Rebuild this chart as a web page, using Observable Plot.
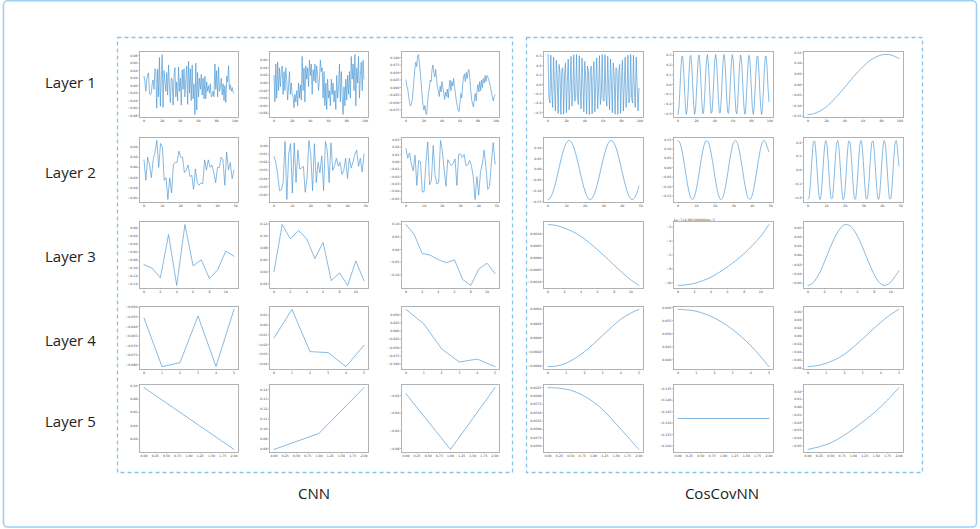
<!DOCTYPE html>
<html><head><meta charset="utf-8">
<script src="https://cdn.jsdelivr.net/npm/d3@7"></script>
<script src="https://cdn.jsdelivr.net/npm/@observablehq/plot@0.6"></script>
<style>
body{margin:0;background:#fff;}
#root{position:relative;width:980px;height:529px;overflow:hidden;font-family:"Open Sans",sans-serif;background:#fff;}
.lbl{position:absolute;font-size:15px;color:#222;white-space:nowrap;transform:translateY(-50%);}
.glbl{position:absolute;font-size:15px;color:#222;white-space:nowrap;transform:translate(-50%,-50%);}
</style></head><body><div id="root"></div>
<script>
// ---------- labels ----------
const rowLabels = ["Layer 1", "Layer 2", "Layer 3", "Layer 4", "Layer 5"];
const groupLabels = ["CNN", "CosCovNN"];
const offsetLabelL3 = "1e\u22127+6.8016000000e\u22123";

// ---------- tick labels ----------
const xTicksL1 = [0, 20, 40, 60, 80, 100];
const xTicksL2 = [0, 10, 20, 30, 40, 50];
const xTicksL3 = [0, 2, 4, 6, 8, 10];
const xTicksL4 = [0, 1, 2, 3, 4, 5];
const xTicksL5 = [0, 0.25, 0.5, 0.75, 1, 1.25, 1.5, 1.75, 2];

// ---------- CNN series ----------
const cnnL1a = [0.025,0.010,-0.015,0.015,0.030,0.034,-0.020,-0.024,-0.020,0.005,
 0.015,-0.010,0.045,0.040,-0.060,0.044,-0.030,0.075,-0.055,0.020,
 0.083,-0.058,0.040,0.010,-0.015,0.035,-0.025,0.055,0.000,-0.045,
 0.020,0.015,-0.052,0.025,0.048,-0.030,0.010,-0.040,0.050,-0.015,
 0.020,-0.052,0.042,-0.010,0.045,-0.030,0.015,0.052,-0.050,0.065,
 -0.020,0.045,-0.040,0.055,-0.035,0.005,-0.077,0.060,-0.065,0.035,
 -0.030,0.020,-0.010,0.030,-0.025,0.020,-0.035,0.025,-0.035,0.010,
 -0.015,0.000,-0.020,0.005,-0.030,-0.025,-0.015,-0.030,0.058,-0.010,
 0.040,-0.030,0.050,-0.015,-0.005,0.020,-0.025,0.005,-0.040,0.000,
 -0.045,0.025,0.010,0.053,-0.010,0.002,-0.015,-0.005,-0.018,-0.020];
const cnnL1b = [0.020,-0.050,0.050,-0.040,0.055,-0.020,0.040,-0.010,0.030,0.045,
 -0.030,0.030,-0.020,0.040,0.010,-0.045,-0.010,0.030,-0.030,0.000,-0.030,
 -0.035,-0.065,-0.030,-0.050,-0.020,-0.060,0.000,-0.040,-0.005,-0.045,
 0.070,-0.020,0.040,-0.050,0.045,0.010,0.040,-0.010,0.060,0.020,0.050,-0.030,0.035,0.005,0.050,0.000,0.045,0.020,-0.020,0.010,0.060,0.030,0.040,-0.040,0.030,
 -0.060,0.000,-0.070,0.010,-0.040,-0.020,-0.060,0.010,-0.030,0.000,-0.050,-0.020,-0.070,0.020,-0.040,-0.010,0.050,-0.050,0.030,-0.030,-0.083,-0.010,-0.060,0.010,-0.045,0.020,-0.030,
 0.030,-0.040,0.070,0.010,0.050,-0.020,0.075,-0.060,0.040,0.000,0.070,-0.040,0.020,0.055,-0.020,0.060,0.010];
const cnnL1c = [0.025,0.005,-0.005,-0.030,-0.050,-0.062,-0.055,-0.040,-0.010,0.030,
 0.065,0.085,0.070,0.105,0.110,0.080,0.050,0.010,-0.030,-0.060,
 -0.075,-0.060,-0.085,-0.090,-0.050,-0.020,0.000,0.025,0.020,0.060,
 0.075,0.050,0.035,0.060,0.030,0.000,-0.010,-0.030,0.005,-0.015,
 0.020,0.000,-0.020,-0.040,-0.015,-0.030,-0.005,-0.035,0.000,0.025,
 -0.010,0.020,0.005,0.030,0.000,-0.020,-0.045,-0.060,-0.075,-0.080,
 -0.050,-0.020,-0.035,0.010,0.035,0.045,0.020,0.050,0.030,0.055,
 0.060,0.030,-0.010,-0.040,-0.055,-0.065,-0.040,-0.020,-0.045,-0.010,
 0.010,-0.015,0.020,-0.010,0.025,0.000,0.030,0.015,0.040,0.020,
 0.040,0.035,0.025,0.015,0.000,-0.015,-0.030,-0.045,-0.030,-0.025];
const cnnL2a = [0.015,-0.025,0.020,0.005,-0.020,0.015,0.030,0.053,0.000,0.047,
 0.040,-0.025,-0.020,-0.063,-0.020,-0.050,0.005,0.010,0.010,0.032,
 0.020,0.020,-0.010,-0.005,0.005,-0.018,-0.015,-0.043,-0.003,-0.030,
 -0.035,-0.030,-0.032,0.015,-0.005,0.015,0.000,0.005,-0.010,-0.030,
 0.000,0.000,0.020,0.015,-0.035,0.030,-0.005,0.010,-0.022,-0.005];
const cnnL2b = [-0.013,-0.020,-0.035,-0.055,-0.054,-0.045,0.006,-0.066,-0.010,0.003,
 -0.058,0.004,-0.045,-0.005,-0.028,-0.027,-0.025,-0.057,-0.040,0.007,
 -0.010,-0.055,0.003,-0.045,-0.020,-0.033,-0.012,-0.055,0.006,-0.005,
 -0.045,0.004,-0.030,-0.024,-0.015,-0.025,-0.020,-0.035,-0.030,-0.015,
 -0.040,-0.015,-0.027,-0.020,-0.010,-0.005,-0.025,-0.015,-0.032,-0.010];
const cnnL2c = [0.018,0.005,0.012,-0.003,-0.012,0.009,-0.032,0.002,0.000,-0.041,
 -0.040,0.000,0.027,-0.031,-0.025,0.022,-0.018,-0.030,-0.028,0.029,
 0.015,-0.010,-0.033,0.003,-0.002,-0.005,-0.002,0.004,-0.032,0.010,
 0.011,0.006,0.010,-0.005,-0.004,0.002,-0.005,-0.020,-0.051,-0.020,
 -0.045,-0.014,-0.003,0.016,-0.008,-0.037,-0.033,0.000,0.026,-0.003];
const cnnL3a = [-0.091,-0.100,-0.124,-0.016,-0.143,0.009,-0.094,-0.079,-0.126,-0.104,-0.057,-0.070];
const cnnL3b = [0.040,0.119,0.095,0.109,0.095,0.062,0.089,0.025,0.038,0.017,0.058,0.025];
const cnnL3c = [0.099,0.061,-0.015,-0.022,-0.040,-0.052,-0.041,-0.118,-0.142,-0.077,-0.054,-0.095];
const cnnL4a = [-0.0555,-0.0811,-0.0790,-0.0545,-0.0810,-0.0510];
const cnnL4b = [-0.0133,0.0160,-0.0273,-0.0283,-0.0427,-0.0207];
const cnnL4c = [0.066,0.022,-0.054,-0.094,-0.085,-0.108];
const cnnL5a = [0.097,0.051,0.005];
const cnnL5b = [0.0793,0.0955,0.1420];
const cnnL5c = [-0.018,-0.081,-0.011];

// ---------- CosCovNN series ----------
const ccL1a = [0.320,-0.140,-0.197,0.313,-0.077,-0.245,0.292,-0.011,-0.283,0.259,
 0.056,-0.308,0.214,0.120,-0.319,0.160,0.179,-0.317,0.099,0.230,
 -0.301,0.033,0.271,-0.271,-0.033,0.301,-0.230,-0.099,0.317,-0.179,
 -0.160,0.319,-0.120,-0.214,0.308,-0.056,-0.259,0.283,0.011,-0.292,
 0.245,0.077,-0.313,0.197,0.140,-0.320,0.140,0.197,-0.313,0.077,
 0.245,-0.292,0.011,0.283,-0.259,-0.056,0.308,-0.214,-0.120,0.319,
 -0.160,-0.179,0.317,-0.099,-0.230,0.301,-0.033,-0.271,0.271,0.033,
 -0.301,0.230,0.099,-0.317,0.179,0.160,-0.319,0.120,0.214,-0.308,
 0.056,0.259,-0.283,-0.011,0.292,-0.245,-0.077,0.313,-0.197,-0.140,
 0.320,-0.140,-0.197,0.313,-0.077,-0.245,0.292,-0.011,-0.283,-0.040];
const ccL1b = [-0.310,-0.239,-0.058,0.149,0.288,0.295,0.167,-0.037,-0.225,-0.309,
 -0.252,-0.079,0.130,0.279,0.301,0.185,-0.016,-0.209,-0.307,-0.264,
 -0.100,0.110,0.269,0.305,0.202,0.005,-0.193,-0.303,-0.275,-0.120,
 0.090,0.258,0.308,0.217,0.027,-0.176,-0.298,-0.284,-0.139,0.069,
 0.246,0.310,0.232,0.048,-0.158,-0.292,-0.292,-0.158,0.048,0.232,
 0.310,0.246,0.069,-0.139,-0.284,-0.298,-0.176,0.027,0.217,0.308,
 0.258,0.090,-0.120,-0.274,-0.303,-0.193,0.005,0.201,0.305,0.269,
 0.110,-0.100,-0.264,-0.307,-0.209,-0.016,0.185,0.301,0.279,0.130,
 -0.079,-0.252,-0.309,-0.225,-0.038,0.167,0.295,0.288,0.149,-0.058,
 -0.239,-0.310,-0.239,-0.058,0.149,0.288,0.295,0.167,-0.037,-0.175];
const ccL1cX = [0,5,10,15,20,25,30,35,40,45,50,55,60,65,70,75,80,85,90,95,99];
const ccL1c = [-0.142,-0.140,-0.132,-0.121,-0.105,-0.086,-0.063,-0.039,-0.013,0.013,
 0.039,0.063,0.085,0.105,0.121,0.132,0.140,0.142,0.140,0.132,0.123];
const ccL2a = [-0.141,-0.136,-0.120,-0.096,-0.065,-0.029,0.009,0.047,0.080,0.107,
 0.125,0.134,0.133,0.121,0.100,0.070,0.036,-0.002,-0.040,-0.075,
 -0.104,-0.126,-0.138,-0.141,-0.132,-0.114,-0.087,-0.054,-0.017,0.021,
 0.057,0.089,0.113,0.129,0.135,0.130,0.115,0.091,0.060,0.024,
 -0.014,-0.051,-0.084,-0.112,-0.131,-0.140,-0.139,-0.128,-0.107,-0.078];
const ccL2b = [0.145,0.132,0.096,0.042,-0.021,-0.082,-0.132,-0.162,-0.168,-0.148,
 -0.107,-0.049,0.014,0.073,0.118,0.142,0.141,0.115,0.068,0.008,
 -0.055,-0.111,-0.151,-0.169,-0.160,-0.128,-0.076,-0.015,0.048,0.100,
 0.135,0.145,0.130,0.091,0.036,-0.027,-0.088,-0.136,-0.164,-0.167,
 -0.145,-0.101,-0.043,0.020,0.078,0.122,0.143,0.140,0.111,0.085];
const ccL2c = [-0.213,-0.202,-0.142,-0.048,0.058,0.150,0.205,0.211,0.165,0.079,
 -0.027,-0.125,-0.194,-0.215,-0.183,-0.108,-0.005,0.098,0.178,0.214,
 0.198,0.134,0.037,-0.068,-0.158,-0.208,-0.208,-0.158,-0.069,0.037,
 0.134,0.198,0.214,0.178,0.098,-0.005,-0.107,-0.183,-0.215,-0.194,
 -0.126,-0.027,0.078,0.165,0.211,0.205,0.150,0.058,-0.048,-0.142,
 -0.202,-0.213,-0.172,-0.089,0.016,0.116,0.189,0.215,0.189,0.117,
 0.016,-0.088,-0.171,-0.213,-0.202,-0.142,-0.048,0.058,0.150,0.205,
 0.211,0.165,0.079,-0.026,-0.125,-0.194,-0.215,-0.184,-0.108,-0.006,
 0.098,0.177,0.214,0.198,0.134,0.038,-0.068,-0.157,-0.208,-0.209,
 -0.158,-0.069,0.037,0.134,0.198,0.214,0.178,0.099,0.030];
const ccL3a = [0.00140,0.00136,0.00125,0.00110,0.00090,0.00063,0.00034,0.00002,-0.00031,-0.00063,-0.00092,-0.00116];
const ccL3b = [-10.4,-10.3,-10.1,-9.7,-9.2,-8.5,-7.7,-6.8,-5.8,-4.6,-3.3,-1.6];
const ccL3c = [-0.065,-0.061,-0.050,-0.034,-0.013,0.009,0.030,0.048,0.061,0.067,0.065,0.056,
 0.041,0.022,0.000,-0.022,-0.041,-0.056,-0.064,-0.064,-0.058,-0.046,-0.033];
const ccL4a = [-0.00041,-0.00040,-0.00036,-0.00029,-0.00020,-0.00009,0.00003,0.00015,0.00026,0.00034,0.00040];
const ccL4b = [0.0593,0.0591,0.0586,0.0575,0.0560,0.0540,0.0516,0.0487,0.0454,0.0416,0.0374];
const ccL4c = [-0.0755,-0.0730,-0.0670,-0.0580,-0.0450,-0.0270,-0.0070,0.0140,0.0340,0.0520,0.0660];
const ccL5a = [0.0625,0.0623,0.0617,0.0603,0.0582,0.0553,0.0516,0.0478,0.0440];
const ccL5b = [-0.148,-0.148,-0.148];
const ccL5c = [-0.0545,-0.0510,-0.0460,-0.0380,-0.0280,-0.0170,-0.0050,0.0090,0.0250];

// ---------- y tick labels ----------
const yt = {
  cnnL1a:[-0.08,-0.06,-0.04,-0.02,0,0.02,0.04,0.06,0.08],
  cnnL1b:[-0.08,-0.06,-0.04,-0.02,0,0.02,0.04,0.06],
  cnnL1c:[-0.075,-0.05,-0.025,0,0.025,0.05,0.075,0.1],
  cnnL2a:[-0.06,-0.04,-0.02,0,0.02,0.04,0.06],
  cnnL2b:[-0.06,-0.05,-0.04,-0.03,-0.02,-0.01,0],
  cnnL2c:[-0.05,-0.04,-0.03,-0.02,-0.01,0,0.01,0.02,0.03],
  cnnL3a:[-0.14,-0.12,-0.1,-0.08,-0.06,-0.04,-0.02,0],
  cnnL3b:[0.02,0.04,0.06,0.08,0.1,0.12],
  cnnL3c:[-0.1,-0.05,0,0.05,0.1],
  cnnL4a:[-0.08,-0.075,-0.07,-0.065,-0.06,-0.055,-0.05],
  cnnL4b:[-0.04,-0.03,-0.02,-0.01,0,0.01],
  cnnL4c:[-0.1,-0.075,-0.05,-0.025,0,0.025,0.05],
  cnnL5a:[0,0.02,0.04,0.06,0.08,0.1],
  cnnL5b:[0.08,0.09,0.1,0.11,0.12,0.13,0.14],
  cnnL5c:[-0.08,-0.06,-0.04,-0.02],
  ccL1a:[-0.3,-0.2,-0.1,0,0.1,0.2,0.3],
  ccL1b:[-0.3,-0.2,-0.1,0,0.1,0.2,0.3],
  ccL1c:[-0.15,-0.1,-0.05,0,0.05,0.1,0.15],
  ccL2a:[-0.15,-0.1,-0.05,0,0.05,0.1,0.15],
  ccL2b:[-0.15,-0.1,-0.05,0,0.05,0.1,0.15],
  ccL2c:[-0.2,-0.1,0,0.1,0.2],
  ccL3a:[-0.001,-0.0005,0,0.0005,0.001],
  ccL3b:[-10,-8,-6,-4,-2],
  ccL3c:[-0.06,-0.04,-0.02,0,0.02,0.04,0.06],
  ccL4a:[-0.0004,-0.0002,0,0.0002,0.0004],
  ccL4b:[0.04,0.045,0.05,0.055,0.06],
  ccL4c:[-0.08,-0.06,-0.04,-0.02,0,0.02,0.04,0.06],
  ccL5a:[0.045,0.0475,0.05,0.0525,0.055,0.0575,0.06,0.0625],
  ccL5b:[-0.16,-0.155,-0.15,-0.145,-0.14,-0.135],
  ccL5c:[-0.05,-0.04,-0.03,-0.02,-0.01,0,0.01,0.02]
};

// ---------- layout (frame boxes) ----------
const colBox = [[139,238],[269,368],[401,499],[543,643],[673,773],[803,903]];
const rowBox = [[51,117],[137,202],[221,288],[306,369],[384,452]];

const root = document.getElementById("root");

// decorations
const NS = "http://www.w3.org/2000/svg";
const deco = document.createElementNS(NS, "svg");
deco.setAttribute("width", 980); deco.setAttribute("height", 529);
deco.style.position = "absolute"; deco.style.left = "0px"; deco.style.top = "0px";
deco.innerHTML =
  '<rect x="3.5" y="0.8" width="973" height="526.2" rx="4" fill="none" stroke="#9fd0f3" stroke-width="1.6"/>' +
  '<rect x="117.5" y="37.5" width="395" height="435" fill="none" stroke="#86c2ea" stroke-width="1.3" stroke-dasharray="4 3"/>' +
  '<rect x="526.5" y="37.5" width="396" height="435" fill="none" stroke="#86c2ea" stroke-width="1.3" stroke-dasharray="4 3"/>';
root.appendChild(deco);

const rowYs = [82, 172, 256, 340, 421];
rowLabels.forEach((t, i) => {
  const d = document.createElement("div");
  d.className = "lbl"; d.textContent = t;
  d.style.left = "45px"; d.style.top = rowYs[i] + "px";
  root.appendChild(d);
});
[[314, 493], [722, 493]].forEach(([x, y], i) => {
  const d = document.createElement("div");
  d.className = "glbl"; d.textContent = groupLabels[i];
  d.style.left = x + "px"; d.style.top = y + "px";
  root.appendChild(d);
});

const fmt = (s) => d3.format(s);
const panels = [
  // CNN
  {r:0,c:0,ys:cnnL1a,step:1,xt:xTicksL1,xf:"d",ytk:yt.cnnL1a,yf:".2f"},
  {r:0,c:1,ys:cnnL1b,step:1,xt:xTicksL1,xf:"d",ytk:yt.cnnL1b,yf:".2f"},
  {r:0,c:2,ys:cnnL1c,step:1,xt:xTicksL1,xf:"d",ytk:yt.cnnL1c,yf:".3f"},
  {r:1,c:0,ys:cnnL2a,step:1,xt:xTicksL2,xf:"d",ytk:yt.cnnL2a,yf:".2f"},
  {r:1,c:1,ys:cnnL2b,step:1,xt:xTicksL2,xf:"d",ytk:yt.cnnL2b,yf:".2f"},
  {r:1,c:2,ys:cnnL2c,step:1,xt:xTicksL2,xf:"d",ytk:yt.cnnL2c,yf:".2f"},
  {r:2,c:0,ys:cnnL3a,step:1,xt:xTicksL3,xf:"d",ytk:yt.cnnL3a,yf:".2f"},
  {r:2,c:1,ys:cnnL3b,step:1,xt:xTicksL3,xf:"d",ytk:yt.cnnL3b,yf:".2f"},
  {r:2,c:2,ys:cnnL3c,step:1,xt:xTicksL3,xf:"d",ytk:yt.cnnL3c,yf:".2f"},
  {r:3,c:0,ys:cnnL4a,step:1,xt:xTicksL4,xf:"d",ytk:yt.cnnL4a,yf:".3f"},
  {r:3,c:1,ys:cnnL4b,step:1,xt:xTicksL4,xf:"d",ytk:yt.cnnL4b,yf:".2f"},
  {r:3,c:2,ys:cnnL4c,step:1,xt:xTicksL4,xf:"d",ytk:yt.cnnL4c,yf:".3f"},
  {r:4,c:0,ys:cnnL5a,step:1,xt:xTicksL5,xf:".2f",ytk:yt.cnnL5a,yf:".2f"},
  {r:4,c:1,ys:cnnL5b,step:1,xt:xTicksL5,xf:".2f",ytk:yt.cnnL5b,yf:".2f"},
  {r:4,c:2,ys:cnnL5c,step:1,xt:xTicksL5,xf:".2f",ytk:yt.cnnL5c,yf:".2f"},
  // CosCovNN
  {r:0,c:3,ys:ccL1a,step:1,xt:xTicksL1,xf:"d",ytk:yt.ccL1a,yf:".1f"},
  {r:0,c:4,ys:ccL1b,step:1,xt:xTicksL1,xf:"d",ytk:yt.ccL1b,yf:".1f"},
  {r:0,c:5,ys:ccL1c,xs:ccL1cX,xt:xTicksL1,xf:"d",ytk:yt.ccL1c,yf:".2f",curve:"catmull-rom"},
  {r:1,c:3,ys:ccL2a,step:1,xt:xTicksL2,xf:"d",ytk:yt.ccL2a,yf:".2f",curve:"catmull-rom"},
  {r:1,c:4,ys:ccL2b,step:1,xt:xTicksL2,xf:"d",ytk:yt.ccL2b,yf:".2f",curve:"catmull-rom"},
  {r:1,c:5,ys:ccL2c,step:0.5,xt:xTicksL2,xf:"d",ytk:yt.ccL2c,yf:".1f",curve:"catmull-rom"},
  {r:2,c:3,ys:ccL3a,step:1,xt:xTicksL3,xf:"d",ytk:yt.ccL3a,yf:".4f",curve:"catmull-rom"},
  {r:2,c:4,ys:ccL3b,step:1,xt:xTicksL3,xf:"d",ytk:yt.ccL3b,yf:"d",curve:"catmull-rom",offset:offsetLabelL3},
  {r:2,c:5,ys:ccL3c,step:0.5,xt:xTicksL3,xf:"d",ytk:yt.ccL3c,yf:".2f",curve:"catmull-rom"},
  {r:3,c:3,ys:ccL4a,step:0.5,xt:xTicksL4,xf:"d",ytk:yt.ccL4a,yf:".4f",curve:"catmull-rom"},
  {r:3,c:4,ys:ccL4b,step:0.5,xt:xTicksL4,xf:"d",ytk:yt.ccL4b,yf:".3f",curve:"catmull-rom"},
  {r:3,c:5,ys:ccL4c,step:0.5,xt:xTicksL4,xf:"d",ytk:yt.ccL4c,yf:".2f",curve:"catmull-rom"},
  {r:4,c:3,ys:ccL5a,step:0.25,xt:xTicksL5,xf:".2f",ytk:yt.ccL5a,yf:".4f",curve:"catmull-rom"},
  {r:4,c:4,ys:ccL5b,step:1,xt:xTicksL5,xf:".2f",ytk:yt.ccL5b,yf:".3f",yDomain:[-0.1628,-0.1332]},
  {r:4,c:5,ys:ccL5c,step:0.25,xt:xTicksL5,xf:".2f",ytk:yt.ccL5c,yf:".2f",curve:"catmull-rom"}
];

const ML = 24, MR = 2, MT = 5, MB = 8;
for (const p of panels) {
  const [fx0, fx1] = colBox[p.c];
  const [fy0, fy1] = rowBox[p.r];
  const xs = p.xs || p.ys.map((_, i) => i * p.step);
  const data = p.ys.map((v, i) => ({x: xs[i], y: v}));
  const xmin = d3.min(xs), xmax = d3.max(xs);
  const xpad = (xmax - xmin) * 0.05;
  const ymin = d3.min(p.ys), ymax = d3.max(p.ys);
  const yd = p.yDomain || [ymin - (ymax - ymin) * 0.05, ymax + (ymax - ymin) * 0.05];
  const yTicks = p.ytk.filter(t => t >= yd[0] - 1e-12 && t <= yd[1] + 1e-12);
  const marks = [
    Plot.axisX({ticks: p.xt, tickFormat: fmt(p.xf), tickSize: 1.4, tickPadding: 0.8, stroke: "#666", strokeWidth: 0.4, label: null, fill: "#444"}),
    Plot.axisY({ticks: yTicks, tickFormat: fmt(p.yf), tickSize: 1.4, tickPadding: 0.8, stroke: "#666", strokeWidth: 0.4, label: null, fill: "#444"}),
    Plot.line(data, {x: "x", y: "y", stroke: "#4694d2", strokeWidth: 0.65, curve: p.curve || "linear"}),
    Plot.frame({stroke: "#aaaaaa", strokeWidth: 0.9})
  ];
  if (p.offset) marks.push(Plot.text([p.offset], {frameAnchor: "top-left", textAnchor: "start", lineAnchor: "bottom", dy: -0.6, fill: "#444", fontSize: 3.2}));
  const svg = Plot.plot({
    width: fx1 - fx0 + ML + MR,
    height: fy1 - fy0 + MT + MB,
    marginLeft: ML, marginRight: MR, marginTop: MT, marginBottom: MB,
    style: {background: "transparent", fontFamily: "DejaVu Sans", fontSize: "3.2px", color: "#444", overflow: "visible", maxWidth: "none"},
    x: {domain: [xmin - xpad, xmax + xpad]},
    y: {domain: yd},
    marks
  });
  svg.style.position = "absolute";
  svg.style.left = (fx0 - ML) + "px";
  svg.style.top = (fy0 - MT) + "px";
  root.appendChild(svg);
}
</script></body></html>
